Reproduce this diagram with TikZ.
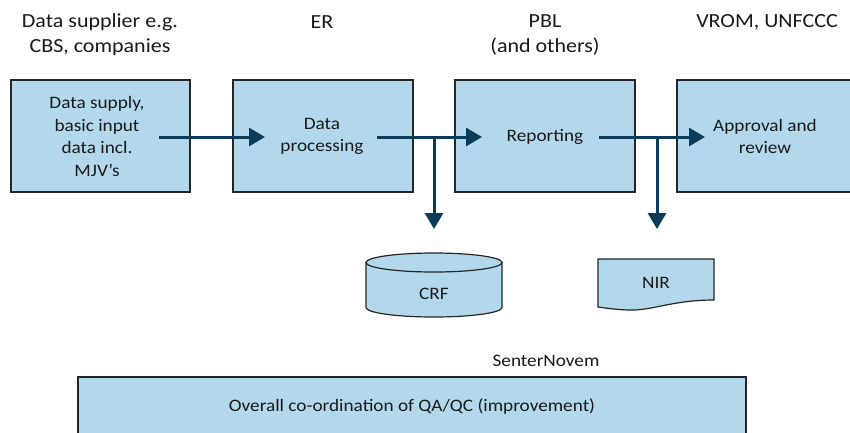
\documentclass[tikz,border=0pt]{standalone}
\usepackage{fontspec}
\setmainfont{Carlito}[FakeStretch=1.1]
\usetikzlibrary{arrows.meta}
\definecolor{boxfill}{HTML}{B4D8EB}
\definecolor{arrowcol}{HTML}{0B3C5A}
\definecolor{edgecol}{HTML}{262626}
\definecolor{textcol}{HTML}{1A1A1A}
\tikzset{
  procbox/.style={draw=edgecol, fill=boxfill, line width=1.2pt, inner sep=0pt},
  boxtext/.style={text=textcol, align=center, font=\fontsize{17.5}{22.5}\selectfont, inner sep=0pt},
  toplabel/.style={text=textcol, align=center, font=\fontsize{20}{25}\selectfont, inner sep=0pt},
  flow/.style={draw=arrowcol, line width=3pt, -{Triangle[length=16pt,width=18pt]}},
  shapeline/.style={draw=edgecol, fill=boxfill, line width=1.2pt}
}
\begin{document}
\begin{tikzpicture}[x=1pt,y=-1pt]
\useasboundingbox (0,0) rectangle (850,432);
\clip (0,0) rectangle (850,432);
\fill[white] (0,0) rectangle (850,432);

% top labels
\node[toplabel] (l1) at (100,35) {Data supplier e.g.\\CBS, companies};
\node[toplabel] (l2) at (322,22) {ER};
\node[toplabel] (l3) at (545,35) {PBL\\(and others)};
\node[toplabel] (l4) at (767,22) {VROM, UNFCCC};

% process boxes
\node[procbox, minimum width=179pt, minimum height=112pt] (b1) at (100.5,136) {};
\node[procbox, minimum width=180pt, minimum height=112pt] (b2) at (323,136) {};
\node[procbox, minimum width=180pt, minimum height=112pt] (b3) at (545,136) {};
\node[procbox, minimum width=180pt, minimum height=112pt] (b4) at (767,136) {};

\node[boxtext] (t1) at (97,136.5) {Data supply,\\basic input\\data incl.\\MJV’s};
\node[boxtext] (t2) at (322,136.5) {Data\\processing};
\node[boxtext] (t3) at (545,137) {Reporting};
\node[boxtext] (t4) at (765,136.5) {Approval and\\review};

% CRF cylinder
\path[shapeline] (366,262.5) -- (366,307.5) arc[start angle=180, end angle=360, x radius=68, y radius=-9.5] -- (502,262.5) -- cycle;
\draw[shapeline] (434,262.5) ellipse[x radius=68, y radius=9.5];
\node[boxtext] (crf) at (434,294) {CRF};

% NIR document
\path[shapeline] (598,259) -- (714,259) -- (714,300)
  .. controls (672,300) and (652,311) .. (628,310)
  .. controls (615,309.5) and (605,308) .. (598,307) -- cycle;
\node[boxtext] (nir) at (656,283) {NIR};

% bottom box
\node[procbox, minimum width=668pt, minimum height=60pt] (qa) at (412,407) {};
\node[boxtext] (qat) at (412,406) {Overall co-ordination of QA/QC (improvement)};
\node[boxtext] (sn) at (546,361) {SenterNovem};

% connectors
\coordinate (a1s) at (159,137);
\coordinate (a1e) at (265,137);
\coordinate (a2s) at (377,137);
\coordinate (a2e) at (482,137);
\coordinate (a3s) at (599,137);
\coordinate (a3e) at (705,137);
\coordinate (j1) at (434,137);
\coordinate (d1) at (434,229);
\coordinate (j2) at (657,137);
\coordinate (d2) at (657,229);

\draw[flow] (a1s) -- (a1e);
\draw[flow] (a2s) -- (a2e);
\draw[flow] (a3s) -- (a3e);
\draw[flow] (j1) -- (d1);
\draw[flow] (j2) -- (d2);
\end{tikzpicture}
\end{document}
